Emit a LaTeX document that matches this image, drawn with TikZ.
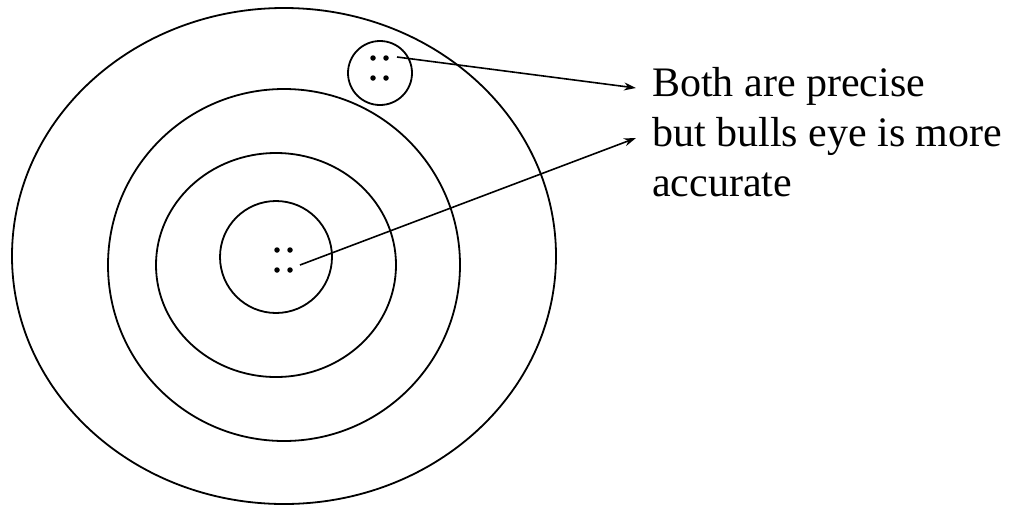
\documentclass[tikz,border=0pt]{standalone}
\usepackage{fontspec}
\setmainfont{Liberation Serif}
\usetikzlibrary{arrows.meta}
\begin{document}
\begin{tikzpicture}[x=1pt,y=-1pt,
  ring/.style={draw=black,line width=1.8pt},
  dotmark/.style={circle,fill=black,inner sep=0pt,minimum size=5.5pt},
  label/.style={inner sep=0pt,anchor=base west,font=\fontsize{42}{50}\selectfont},
  pointer/.style={line width=1.6pt,-{Stealth[length=12pt,width=8pt]}}]
\useasboundingbox (0,0) rectangle (1020,507);
% target rings
\draw[ring] (284,256) ellipse [x radius=272, y radius=248];
\draw[ring] (284,265) ellipse [x radius=176, y radius=176];
\draw[ring] (276,265) ellipse [x radius=120, y radius=112];
\draw[ring] (276,257) ellipse [x radius=56, y radius=56];
\draw[ring] (380,73) ellipse [x radius=32, y radius=32];
% shot groups
\node[dotmark] (a1) at (373,58) {};
\node[dotmark] (a2) at (386,58) {};
\node[dotmark] (a3) at (373,78) {};
\node[dotmark] (a4) at (386,78) {};
\node[dotmark] (b1) at (277,250) {};
\node[dotmark] (b2) at (290,250) {};
\node[dotmark] (b3) at (277,270) {};
\node[dotmark] (b4) at (290,270) {};
% text
\node[label] (l1) at (652,96) {Both are precise};
\node[label] (l2) at (652,146) {but bulls eye is more};
\node[label] (l3) at (652,196) {accurate};
% connectors
\coordinate (s1) at (397,57);
\coordinate (s2) at (300,265);
\coordinate (t1) at (636,88);
\coordinate (t2) at (636,138);
\draw[pointer] (s1) -- (t1);
\draw[pointer] (s2) -- (t2);
\end{tikzpicture}
\end{document}
